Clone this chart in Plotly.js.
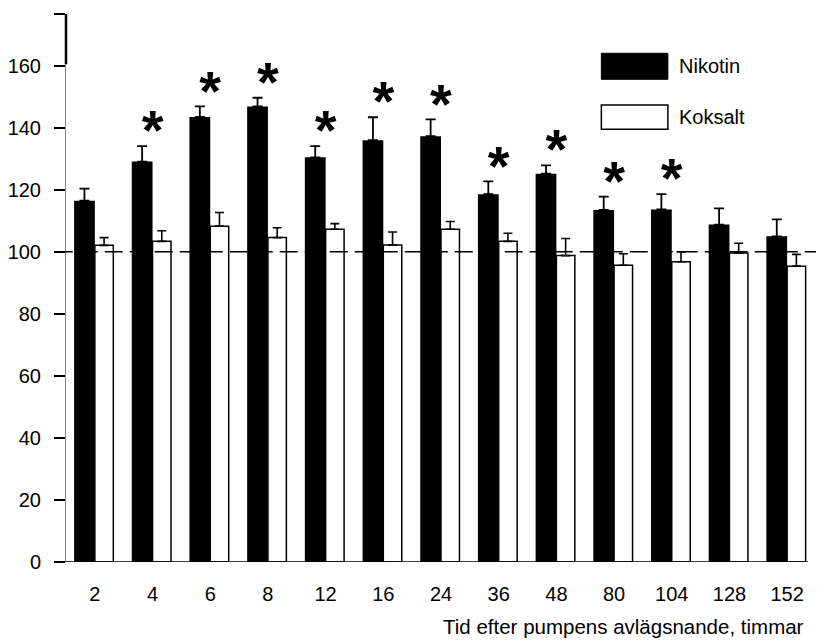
<!DOCTYPE html>
<html>
<head>
<meta charset="utf-8">
<script src="https://cdn.plot.ly/plotly-3.0.1.min.js"></script>
<style>html,body{margin:0;padding:0;background:#fff;}#chart{width:820px;height:641px;}</style>
</head>
<body>
<div id="chart"></div>
<script>
// Data
const hours = ['2','4','6','8','12','16','24','36','48','80','104','128','152'];
const nikotin = [116.5,129.1,143.5,146.9,130.5,136.0,137.3,118.6,125.2,113.5,113.7,108.8,105.0];
const nikotinErr = [3.9,5.0,3.4,2.8,3.6,7.4,5.4,4.1,2.7,4.3,4.9,5.2,5.5];
const koksalt = [102.1,103.4,108.3,104.6,107.3,102.2,107.3,103.4,98.8,95.7,96.8,99.6,95.4];
const koksaltErr = [2.5,3.4,4.4,3.2,1.8,4.2,2.5,2.6,5.5,3.7,3.2,3.2,3.8];
const significant = [false,true,true,true,true,true,true,true,true,true,true,false,false];
const yTicks = [0,20,40,60,80,100,120,140,160];
const legendNames = ['Nikotin','Koksalt'];
const xTitle = 'Tid efter pumpens avlägsnande, timmar';

const FONT = 'Liberation Sans, Arial, Helvetica, sans-serif';
const yTop = 176.7;

const starX = [], starY = [];
hours.forEach((h,i) => { if (significant[i]) { starX.push(h); starY.push(nikotin[i] + nikotinErr[i] + 3.5); } });

const traces = [
  {
    type: 'bar', name: legendNames[0], x: hours, y: nikotin,
    width: 0.36, offset: -0.36,
    marker: {color: '#000', line: {color: '#000', width: 0}},
    error_y: {type: 'data', symmetric: false, array: nikotinErr, arrayminus: hours.map(()=>0),
              color: '#000', thickness: 1.8, width: 5},
    showlegend: false
  },
  {
    type: 'bar', name: legendNames[1], x: hours, y: koksalt,
    width: 0.32, offset: 0,
    marker: {color: '#fff', line: {color: '#000', width: 1.5}},
    error_y: {type: 'data', symmetric: false, array: koksaltErr, arrayminus: hours.map(()=>0),
              color: '#000', thickness: 1.6, width: 4.5},
    showlegend: false
  },
  {
    type: 'scatter', mode: 'text', x: starX, y: starY, text: starX.map(()=>'*'),
    textposition: 'middle center',
    textfont: {family: FONT, size: 56, color: '#000', weight: 'bold'},
    showlegend: false, hoverinfo: 'skip',
    cliponaxis: false
  }
];

const layout = {
  width: 820, height: 641,
  margin: {l: 66, r: 4, t: 14, b: 79},
  paper_bgcolor: '#fff', plot_bgcolor: '#fff',
  font: {family: FONT, color: '#000', size: 20},
  barmode: 'overlay',
  showlegend: false,
  xaxis: {
    type: 'category', range: [-0.5, 12.5],
    showline: false, showgrid: false, zeroline: false,
    ticks: '', ticklabelstandoff: 18,
    tickfont: {family: FONT, size: 20, color: '#000'}
  },
  yaxis: {
    range: [0, yTop], showgrid: false, zeroline: false,
    showline: true, linecolor: '#888', linewidth: 1,
    ticks: 'outside', ticklen: 11, tickwidth: 1.5, tickcolor: '#000',
    tickvals: yTicks.concat([yTop]), ticktext: yTicks.map(String).concat(['']),
    ticklabelstandoff: 9,
    tickfont: {family: FONT, size: 20, color: '#000'}
  },
  shapes: [
    {type: 'line', xref: 'paper', yref: 'y', x0: -0.015, x1: 0.989, y0: 0, y1: 0,
     line: {color: '#000', width: 1.5}},
    {type: 'line', xref: 'paper', yref: 'y', x0: 0, x1: 0, y0: 160.5, y1: yTop,
     line: {color: '#000', width: 2.5}},
    {type: 'line', xref: 'paper', yref: 'y', x0: -0.015, x1: 1, y0: 100, y1: 100,
     line: {color: '#000', width: 1.5, dash: '18px,7px'}, layer: 'above'},
    {type: 'rect', xref: 'paper', yref: 'paper', x0: 0.7138, x1: 0.8025, y0: 0.8808, y1: 0.9283,
     fillcolor: '#000', line: {color: '#000', width: 1}},
    {type: 'rect', xref: 'paper', yref: 'paper', x0: 0.7138, x1: 0.8025, y0: 0.7895, y1: 0.8338,
     fillcolor: '#fff', line: {color: '#000', width: 1.5}}
  ],
  annotations: [
    {xref: 'paper', yref: 'paper', x: 0.8145, y: 0.9051, xanchor: 'left', yanchor: 'middle',
     text: legendNames[0], showarrow: false, font: {family: FONT, size: 20, color: '#000'}},
    {xref: 'paper', yref: 'paper', x: 0.8145, y: 0.8114, xanchor: 'left', yanchor: 'middle',
     text: legendNames[1], showarrow: false, font: {family: FONT, size: 20, color: '#000'}},
    {xref: 'paper', yref: 'paper', x: 0.987, y: -0.1174, xanchor: 'right', yanchor: 'middle',
     text: xTitle, showarrow: false, font: {family: FONT, size: 20.5, color: '#000'}}
  ]
};

Plotly.newPlot('chart', traces, layout, {displayModeBar: false, staticPlot: true});
</script>
</body>
</html>
